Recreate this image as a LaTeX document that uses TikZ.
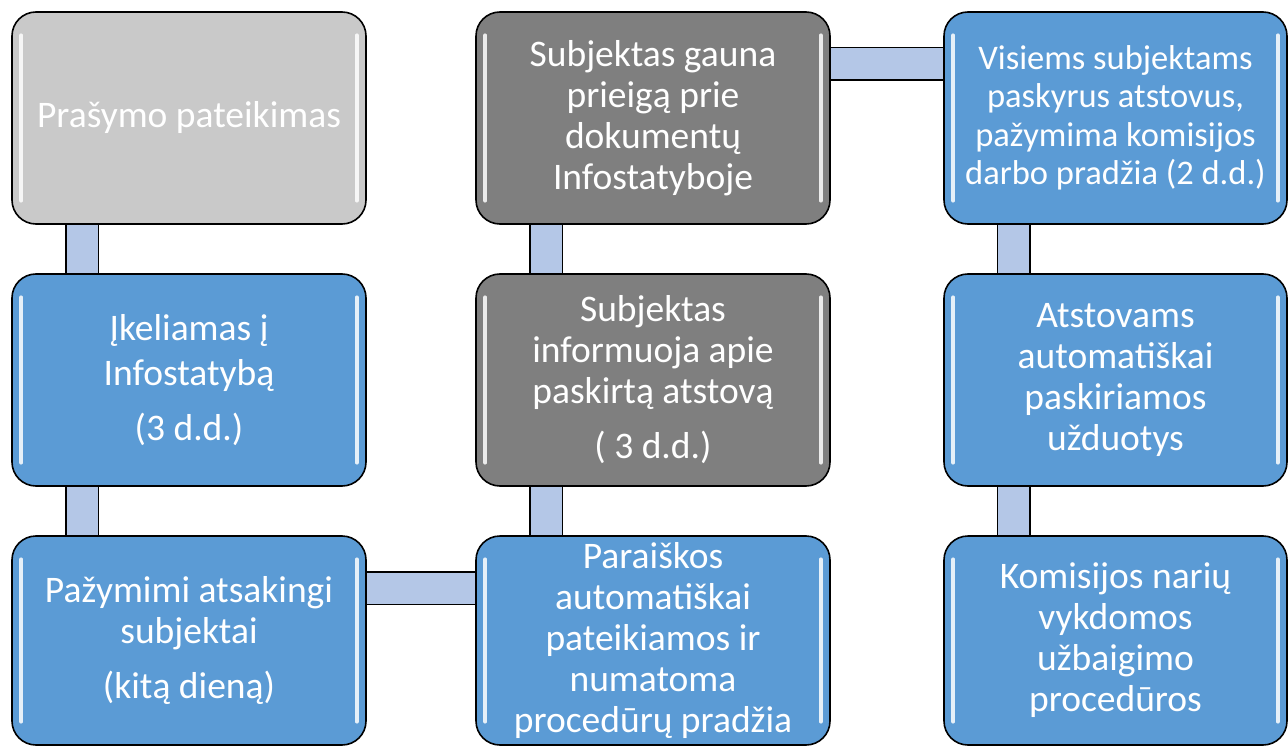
\documentclass[tikz,border=0pt]{standalone}
\usepackage{fontspec}
\setmainfont{Carlito}
\usetikzlibrary{backgrounds,calc}
\definecolor{boxblue}{HTML}{5B9BD5}
\definecolor{boxgray}{HTML}{C9C9C9}
\definecolor{boxdark}{HTML}{7F7F7F}
\definecolor{connfill}{HTML}{B4C7E7}
\tikzset{
  flowbox/.style={rectangle, rounded corners=24pt, draw=black, line width=1.6pt,
    minimum width=354pt, minimum height=212pt, inner sep=0pt, text=white,
    align=center, font=\fontsize{37.5}{41}\selectfont},
  bluebox/.style={flowbox, fill=boxblue},
  graybox/.style={flowbox, fill=boxgray},
  darkbox/.style={flowbox, fill=boxdark},
  conn/.style={line width=1.6pt, draw=black, double=connfill, double distance=31pt},
  gloss/.style={white, line width=3.5pt, line cap=round, opacity=0.85}
}
\begin{document}
\begin{tikzpicture}[x=1pt,y=-1pt]
\useasboundingbox (0,0) rectangle (1288,746);
% boxes
\node[graybox] (a1) at (189,118) {Prašymo pateikimas};
\node[bluebox] (a2) at (189,380) {Įkeliamas į\\[4pt] Infostatybą\\[14pt] (3 d.d.)};
\node[bluebox, minimum height=209pt] (a3) at (189,640.5) {Pažymimi atsakingi\\ subjektai\\[14pt] (kitą dieną)};
\node[darkbox] (b1) at (653,118) {Subjektas gauna\\ prieigą prie\\ dokumentų\\ Infostatyboje};
\node[darkbox] (b2) at (653,380) {Subjektas\\ informuoja apie\\ paskirtą atstovą\\[14pt] ( 3 d.d.)};
\node[bluebox, minimum height=209pt] (b3) at (653,640.5) {Paraiškos\\ automatiškai\\ pateikiamos ir\\ numatoma\\ procedūrų pradžia};
\node[bluebox, minimum width=343pt, font=\fontsize{34.5}{38.5}\selectfont] (c1) at (1115.5,118) {Visiems subjektams\\ paskyrus atstovus,\\ pažymima komisijos\\ darbo pradžia (2 d.d.)};
\node[bluebox, minimum width=343pt] (c2) at (1115.5,380) {Atstovams\\ automatiškai\\ paskiriamos\\ užduotys};
\node[bluebox, minimum width=343pt, minimum height=209pt] (c3) at (1115.5,640.5) {Komisijos narių\\ vykdomos\\ užbaigimo\\ procedūros};
% gloss highlights
\foreach \n in {a1,a2,a3,b1,b2,b3,c1,c2,c3}{
  \draw[gloss] ([xshift=10pt,yshift=-24pt]\n.north west) -- ([xshift=10pt,yshift=24pt]\n.south west);
  \draw[gloss] ([xshift=-10pt,yshift=-24pt]\n.north east) -- ([xshift=-10pt,yshift=24pt]\n.south east);
}
% connectors
\begin{pgfonlayer}{background}
\draw[conn] ($(a1.south west)+(71,0)$) -- ($(a2.north west)+(71,0)$);
\draw[conn] ($(a2.south west)+(71,0)$) -- ($(a3.north west)+(71,0)$);
\draw[conn] ($(a3.north east)+(0,53)$) -- ($(b3.north west)+(0,53)$);
\draw[conn] ($(b3.north west)+(71,0)$) -- ($(b2.south west)+(71,0)$);
\draw[conn] ($(b2.north west)+(71,0)$) -- ($(b1.south west)+(71,0)$);
\draw[conn] ($(b1.north east)+(0,52.5)$) -- ($(c1.north west)+(0,52.5)$);
\draw[conn] ($(c1.south west)+(70.5,0)$) -- ($(c2.north west)+(70.5,0)$);
\draw[conn] ($(c2.south west)+(70.5,0)$) -- ($(c3.north west)+(70.5,0)$);
\end{pgfonlayer}
\end{tikzpicture}
\end{document}
